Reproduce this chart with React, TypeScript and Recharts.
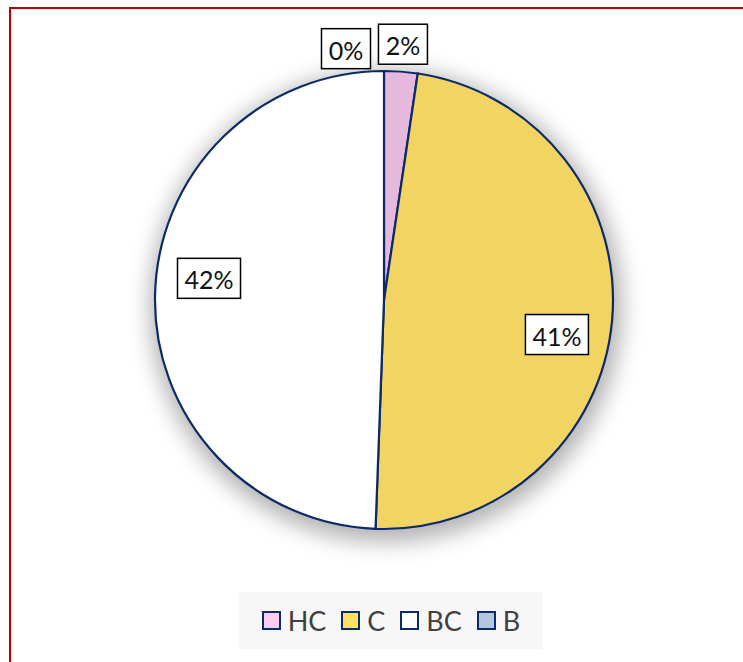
import { Legend, Pie, PieChart, Cell } from 'recharts'

const categories = ['HC', 'C', 'BC', 'B']
const values = [2, 41, 42, 0]

const SLICE_COLORS = ['#e5b9dc', '#f2d462', '#ffffff', '#b4c7e0']
const LEGEND_COLORS = ['#f9cdee', '#fde068', '#ffffff', '#b4c7e0']
const STROKE = '#0c2a6a'

// label placement, relative to the slice's mid angle (Excel "best fit" look)
const LABEL_RADIUS = [1.12, 0.77, 0.77, 1.11]
const LABEL_NUDGE = [0, -6, -6, 8.6]

const data = categories.map((name, i) => ({ name, value: values[i] }))
const RAD = Math.PI / 180

function renderLabel(props: any) {
  const { cx, cy, midAngle, outerRadius, index, value } = props
  const ang = (midAngle + LABEL_NUDGE[index]) * RAD
  const r = outerRadius * LABEL_RADIUS[index]
  const x = cx + r * Math.cos(ang)
  const y = cy - r * Math.sin(ang)
  const text = `${value}%`
  const w = 21 + text.length * 14
  const h = 40
  return (
    <g key={`lbl-${index}`}>
      <rect x={x - w / 2} y={y - h / 2} width={w} height={h} fill="#fff" stroke="#000" strokeWidth={1.5} />
      <text x={x} y={y + 1} textAnchor="middle" dominantBaseline="central" fontSize={25} fill="#111">
        {text}
      </text>
    </g>
  )
}

function LegendBox() {
  return (
    <div
      style={{
        display: 'flex',
        alignItems: 'center',
        justifyContent: 'center',
        background: '#f7f7f7',
        width: 304,
        height: 57,
        margin: '0 auto',
        fontFamily: 'Lato, sans-serif',
        fontSize: 27,
        color: '#404040',
      }}
    >
      {categories.map((c, i) => (
        <span key={c} style={{ display: 'flex', alignItems: 'center', marginRight: i < 3 ? 15 : 0 }}>
          <span
            style={{
              display: 'inline-block',
              width: 15,
              height: 15,
              background: LEGEND_COLORS[i],
              border: `2px solid ${STROKE}`,
              marginRight: 7,
            }}
          />
          {c}
        </span>
      ))}
    </div>
  )
}

export default function App() {
  return (
    <div style={{ position: 'absolute', left: 0, top: 0, width: 743, height: 662, background: '#fff', overflow: 'hidden', fontFamily: 'Lato, sans-serif' }}>
      <div
        style={{
          position: 'absolute',
          left: 9,
          top: 7,
          width: 760,
          height: 700,
          borderTop: '2px solid #c00000',
          borderLeft: '2px solid #c00000',
        }}
      />
      <div style={{ position: 'absolute', left: 0, top: 0 }}>
        <PieChart width={743} height={662} margin={{ top: 0, right: 0, bottom: 0, left: 0 }}>
          <Pie
            data={[{ name: 'shadow', value: 1 }]}
            dataKey="value"
            cx={386}
            cy={306}
            outerRadius={236}
            isAnimationActive={false}
            stroke="none"
            legendType="none"
          >
            <Cell fill="#000" fillOpacity={0.3} style={{ filter: 'blur(11px)' }} />
          </Pie>
          <Pie
            data={data}
            dataKey="value"
            nameKey="name"
            cx={384}
            cy={300}
            outerRadius={229}
            startAngle={90}
            endAngle={-270}
            stroke={STROKE}
            strokeWidth={2.2}
            label={renderLabel}
            labelLine={false}
            isAnimationActive={false}
          >
            {data.map((d, i) => (
              <Cell key={d.name} fill={SLICE_COLORS[i]} />
            ))}
          </Pie>
          <Legend
            content={() => <LegendBox />}
            wrapperStyle={{ left: 0, top: 592, width: 782 }}
          />
        </PieChart>
      </div>
    </div>
  )
}
